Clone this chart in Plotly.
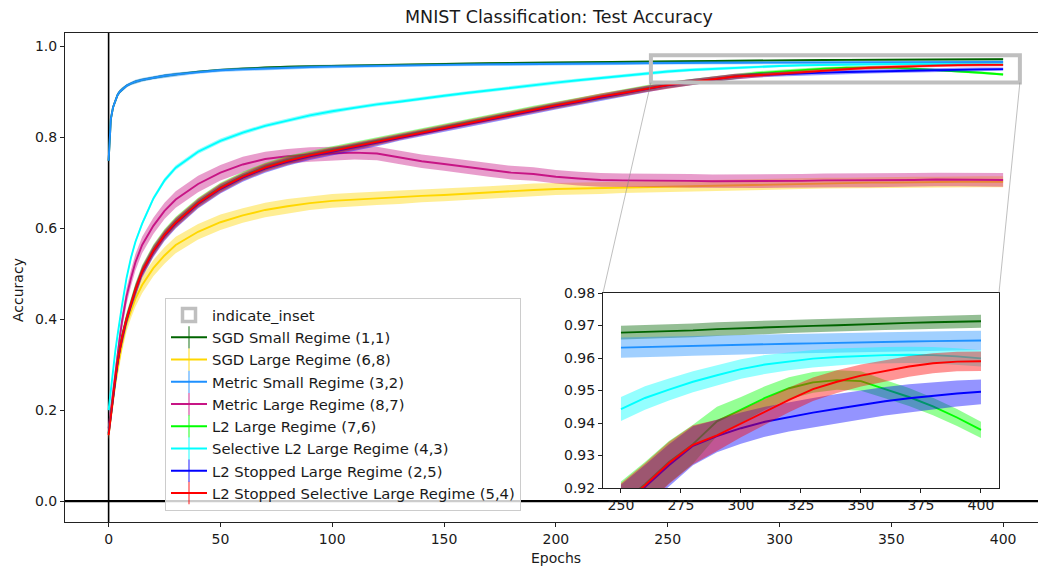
import plotly.graph_objects as go

# ---------------- data ----------------
epochs = [0, 1, 2, 3, 4, 5, 6, 8, 10, 12, 15, 20, 25, 30, 40, 50, 60, 70, 80, 90,
          100, 110, 120, 130, 140, 150, 160, 170, 180, 190, 200, 210, 220, 230, 240,
          250, 260, 270, 280, 290, 300, 310, 320, 330, 340, 350, 360, 370, 380, 390, 400]

sgd_small = [0.748, 0.840, 0.866, 0.882, 0.893, 0.900, 0.905, 0.913, 0.918, 0.922, 0.926, 0.931, 0.935, 0.938,
             0.944, 0.948, 0.951, 0.953, 0.955, 0.956, 0.957, 0.958, 0.959, 0.960, 0.961, 0.9615, 0.962,
             0.9625, 0.963, 0.9635, 0.964, 0.9645, 0.965, 0.9658, 0.9668, 0.9678, 0.9680, 0.9682, 0.9685,
             0.9689, 0.9692, 0.9694, 0.9697, 0.9699, 0.9701, 0.9704, 0.9706, 0.9708, 0.9710, 0.9712, 0.9713]
sgd_small_err = [0.006, 0.005, 0.005, 0.004, 0.004, 0.004, 0.004, 0.003, 0.003, 0.003, 0.003, 0.003, 0.003, 0.003,
                 0.0025, 0.0025, 0.0025, 0.0024, 0.0024, 0.0024, 0.0023, 0.0023, 0.0023, 0.0023, 0.0022, 0.0022,
                 0.0022, 0.0022, 0.0022, 0.0022, 0.0022, 0.0022, 0.0022, 0.0022, 0.0022, 0.0021, 0.0021, 0.0021,
                 0.0021, 0.0021, 0.0021, 0.0021, 0.0020, 0.0020, 0.0020, 0.0020, 0.0020, 0.0020, 0.0020, 0.0020, 0.0020]

sgd_large = [0.145, 0.185, 0.225, 0.260, 0.290, 0.320, 0.345, 0.390, 0.420, 0.445, 0.475, 0.512, 0.540, 0.563,
             0.592, 0.613, 0.628, 0.640, 0.648, 0.655, 0.660, 0.663, 0.666, 0.668, 0.671, 0.673, 0.676, 0.678,
             0.681, 0.684, 0.686, 0.687, 0.688, 0.690, 0.691, 0.692, 0.693, 0.694, 0.695, 0.696, 0.697, 0.698,
             0.699, 0.699, 0.700, 0.700, 0.701, 0.701, 0.702, 0.702, 0.702]
sgd_large_err = [0.010, 0.012, 0.014, 0.015, 0.016, 0.017, 0.017, 0.018, 0.018, 0.018, 0.018, 0.018, 0.018, 0.018,
                 0.017, 0.017, 0.016, 0.016, 0.016, 0.015, 0.015, 0.015, 0.015, 0.015, 0.014, 0.014, 0.014, 0.014,
                 0.014, 0.014, 0.013, 0.013, 0.013, 0.013, 0.013, 0.013, 0.013, 0.012, 0.012, 0.012, 0.012, 0.012,
                 0.012, 0.012, 0.012, 0.012, 0.012, 0.012, 0.012, 0.012, 0.012]

metric_small = [0.748, 0.840, 0.866, 0.882, 0.893, 0.900, 0.905, 0.913, 0.918, 0.922, 0.926, 0.931, 0.935, 0.938,
                0.943, 0.947, 0.949, 0.951, 0.952, 0.954, 0.955, 0.956, 0.957, 0.958, 0.9585, 0.959, 0.9595,
                0.960, 0.9605, 0.961, 0.9612, 0.9615, 0.9618, 0.962, 0.9626, 0.9632, 0.9634, 0.9636, 0.9637,
                0.9639, 0.9641, 0.9642, 0.9644, 0.9645, 0.9647, 0.9648, 0.9649, 0.9651, 0.9652, 0.9653, 0.9654]
metric_small_err = [0.006, 0.006, 0.005, 0.005, 0.005, 0.004, 0.004, 0.004, 0.004, 0.004, 0.004, 0.004, 0.004, 0.004,
                    0.0035, 0.0035, 0.0035, 0.0035, 0.0034, 0.0034, 0.0034, 0.0033, 0.0033, 0.0033, 0.0033, 0.0032,
                    0.0032, 0.0032, 0.0032, 0.0032, 0.0031, 0.0031, 0.0031, 0.0031, 0.0031, 0.0031, 0.0031, 0.0031,
                    0.0030, 0.0030, 0.0030, 0.0030, 0.0030, 0.0030, 0.0030, 0.0030, 0.0030, 0.0030, 0.0030, 0.0030, 0.0030]

metric_large = [0.160, 0.200, 0.250, 0.290, 0.330, 0.360, 0.395, 0.450, 0.490, 0.525, 0.563, 0.605, 0.638, 0.663,
                0.697, 0.722, 0.740, 0.752, 0.758, 0.762, 0.764, 0.766, 0.764, 0.755, 0.747, 0.741, 0.735, 0.728,
                0.722, 0.719, 0.713, 0.709, 0.706, 0.705, 0.705, 0.705, 0.704, 0.703, 0.703, 0.703, 0.704, 0.704,
                0.705, 0.705, 0.705, 0.706, 0.706, 0.707, 0.707, 0.707, 0.706]
metric_large_err = [0.010, 0.012, 0.014, 0.015, 0.016, 0.017, 0.017, 0.018, 0.018, 0.018, 0.018, 0.018, 0.018, 0.018,
                    0.018, 0.017, 0.017, 0.016, 0.016, 0.016, 0.015, 0.015, 0.015, 0.015, 0.015, 0.015, 0.015, 0.015,
                    0.015, 0.015, 0.015, 0.015, 0.015, 0.015, 0.015, 0.015, 0.015, 0.015, 0.015, 0.015, 0.015, 0.015,
                    0.015, 0.015, 0.015, 0.015, 0.015, 0.015, 0.015, 0.015, 0.015]

l2_large = [0.150, 0.192, 0.237, 0.272, 0.307, 0.337, 0.362, 0.402, 0.437, 0.467, 0.507, 0.552, 0.587, 0.614,
            0.657, 0.690, 0.715, 0.735, 0.750, 0.762, 0.772, 0.782, 0.792, 0.803, 0.813, 0.823, 0.833, 0.843,
            0.852, 0.862, 0.871, 0.880, 0.890, 0.898, 0.907, 0.9150, 0.9212, 0.9280, 0.9335, 0.9405, 0.9440,
            0.9477, 0.9507, 0.9525, 0.9532, 0.9529, 0.9504, 0.9480, 0.9451, 0.9417, 0.9379]
l2_large_err = [0.008, 0.010, 0.011, 0.012, 0.012, 0.012, 0.012, 0.012, 0.012, 0.012, 0.012, 0.012, 0.011, 0.011,
                0.010, 0.010, 0.009, 0.009, 0.009, 0.008, 0.008, 0.008, 0.008, 0.007, 0.007, 0.007, 0.007, 0.007,
                0.007, 0.007, 0.007, 0.007, 0.007, 0.007, 0.007, 0.0070, 0.0068, 0.0065, 0.0060, 0.0045, 0.0040,
                0.0036, 0.0034, 0.0032, 0.0030, 0.0030, 0.0028, 0.0028, 0.0027, 0.0026, 0.0025]

sel_l2_large = [0.200, 0.245, 0.290, 0.330, 0.365, 0.400, 0.430, 0.490, 0.535, 0.570, 0.610, 0.665, 0.705, 0.733,
                0.768, 0.792, 0.810, 0.825, 0.837, 0.848, 0.857, 0.865, 0.872, 0.878, 0.885, 0.891, 0.897, 0.903,
                0.909, 0.915, 0.920, 0.925, 0.930, 0.935, 0.940, 0.9443, 0.9477, 0.9503, 0.9527, 0.9547, 0.9566,
                0.9580, 0.9590, 0.9598, 0.9603, 0.9607, 0.9609, 0.9610, 0.9609, 0.9605, 0.9599]
sel_l2_large_err = [0.006, 0.006, 0.006, 0.006, 0.006, 0.006, 0.006, 0.005, 0.005, 0.005, 0.005, 0.005, 0.005, 0.005,
                    0.005, 0.005, 0.0045, 0.0045, 0.0045, 0.0045, 0.0045, 0.004, 0.004, 0.004, 0.004, 0.004, 0.004,
                    0.004, 0.004, 0.004, 0.004, 0.0038, 0.0038, 0.0038, 0.0038, 0.0037, 0.0036, 0.0034, 0.0032,
                    0.0031, 0.0030, 0.0029, 0.0028, 0.0027, 0.0026, 0.0025, 0.0025, 0.0025, 0.0025, 0.0025, 0.0025]

l2_stopped = [0.148, 0.189, 0.233, 0.268, 0.303, 0.333, 0.358, 0.398, 0.433, 0.463, 0.503, 0.548, 0.583, 0.610,
              0.653, 0.686, 0.711, 0.731, 0.746, 0.758, 0.768, 0.778, 0.788, 0.799, 0.809, 0.819, 0.829, 0.839,
              0.848, 0.858, 0.868, 0.877, 0.887, 0.896, 0.905, 0.9140, 0.9203, 0.9270, 0.9330, 0.9360, 0.9384,
              0.9404, 0.9419, 0.9432, 0.9444, 0.9456, 0.9467, 0.9476, 0.9484, 0.9491, 0.9496]
l2_stopped_err = [0.008, 0.010, 0.011, 0.012, 0.012, 0.012, 0.012, 0.012, 0.012, 0.012, 0.012, 0.012, 0.011, 0.011,
                  0.010, 0.010, 0.009, 0.009, 0.009, 0.008, 0.008, 0.008, 0.008, 0.007, 0.007, 0.007, 0.007, 0.007,
                  0.007, 0.007, 0.007, 0.007, 0.007, 0.007, 0.007, 0.0070, 0.0068, 0.0065, 0.0060, 0.0050, 0.0048,
                  0.0046, 0.0045, 0.0045, 0.0045, 0.0045, 0.0044, 0.0043, 0.0042, 0.0040, 0.0038]

l2_stopped_sel = [0.145, 0.190, 0.235, 0.270, 0.305, 0.335, 0.360, 0.400, 0.435, 0.465, 0.505, 0.550, 0.585, 0.612,
                  0.655, 0.688, 0.713, 0.733, 0.748, 0.760, 0.770, 0.780, 0.790, 0.801, 0.811, 0.821, 0.831, 0.841,
                  0.850, 0.860, 0.870, 0.879, 0.889, 0.897, 0.906, 0.9145, 0.9208, 0.9277, 0.9333, 0.9362, 0.9398,
                  0.9434, 0.9471, 0.9504, 0.9527, 0.9546, 0.9561, 0.9574, 0.9584, 0.9589, 0.9590]
l2_stopped_sel_err = [0.008, 0.010, 0.011, 0.012, 0.012, 0.012, 0.012, 0.012, 0.012, 0.012, 0.012, 0.012, 0.011, 0.011,
                      0.010, 0.010, 0.009, 0.009, 0.009, 0.008, 0.008, 0.008, 0.008, 0.007, 0.007, 0.007, 0.007, 0.007,
                      0.007, 0.007, 0.007, 0.007, 0.007, 0.007, 0.007, 0.0070, 0.0068, 0.0065, 0.0060, 0.0048, 0.0042,
                      0.0040, 0.0038, 0.0036, 0.0035, 0.0034, 0.0033, 0.0032, 0.0031, 0.0030, 0.0030]

series_names = ["SGD Small Regime (1,1)", "SGD Large Regime (6,8)", "Metric Small Regime (3,2)",
                "Metric Large Regime (8,7)", "L2 Large Regime (7,6)", "Selective L2 Large Regime (4,3)",
                "L2 Stopped Large Regime (2,5)", "L2 Stopped Selective Large Regime (5,4)"]
series_values = [sgd_small, sgd_large, metric_small, metric_large, l2_large, sel_l2_large, l2_stopped, l2_stopped_sel]
series_errors = [sgd_small_err, sgd_large_err, metric_small_err, metric_large_err, l2_large_err,
                 sel_l2_large_err, l2_stopped_err, l2_stopped_sel_err]
series_colors = [(0, 100, 0), (255, 215, 0), (30, 144, 255), (199, 21, 133), (0, 255, 0),
                 (0, 255, 255), (0, 0, 255), (255, 0, 0)]

main_xticks = [0, 50, 100, 150, 200, 250, 300, 350, 400]
main_yticks = [0.0, 0.2, 0.4, 0.6, 0.8, 1.0]
inset_start_epoch = 250
inset_xticks = [250, 275, 300, 325, 350, 375, 400]
inset_yticks = [0.92, 0.93, 0.94, 0.95, 0.96, 0.97, 0.98]
inset_xlim = [242.5, 407.5]
inset_ylim = [0.92, 0.98]

# ---------------- layout constants ----------------
W, H = 1038, 569
ML, MR, MT, MB = 65, 0, 33, 47
XR = [-19.5, 415.6]
YR = [-0.046, 1.029]
INSET_DOM_X = [0.5529, 0.9599]
INSET_DOM_Y = [0.0695, 0.4683]
FONT = "DejaVu Sans"
TXT = "#1a1a1a"


def rgba(c, a):
    return "rgba(%d,%d,%d,%s)" % (c[0], c[1], c[2], a)


fig = go.Figure()

# legend-only entries
fig.add_trace(go.Scatter(x=[None], y=[None], mode="markers", name="indicate_inset",
                         marker=dict(symbol="square-open", size=13, color="#bfbfbf",
                                     line=dict(color="#bfbfbf", width=3.5)),
                         showlegend=True, hoverinfo="skip"))
for name, col in zip(series_names, series_colors):
    fig.add_trace(go.Scatter(x=[None], y=[None], mode="lines+markers", name=name,
                             line=dict(color=rgba(col, 1), width=2),
                             marker=dict(symbol="line-ns", size=16, color=rgba(col, 0.45),
                                         line=dict(color=rgba(col, 0.45), width=2)),
                             showlegend=True, hoverinfo="skip"))

# data: bands + lines, main axes and inset axes (inset shows epochs >= 250 only)
inset_idx = [i for i, e in enumerate(epochs) if e >= inset_start_epoch]
for axes, idx in [(("x", "y"), list(range(len(epochs)))), (("x2", "y2"), inset_idx)]:
    ex = [epochs[i] for i in idx]
    for vals, errs, col in zip(series_values, series_errors, series_colors):
        v = [vals[i] for i in idx]
        upper = [vals[i] + errs[i] for i in idx]
        lower = [vals[i] - errs[i] for i in idx]
        fig.add_trace(go.Scatter(x=ex + ex[::-1], y=upper + lower[::-1],
                                 fill="toself", fillcolor=rgba(col, 0.42),
                                 line=dict(width=0), mode="lines", showlegend=False,
                                 hoverinfo="skip", xaxis=axes[0], yaxis=axes[1]))
        fig.add_trace(go.Scatter(x=ex, y=v, mode="lines",
                                 line=dict(color=rgba(col, 1), width=1.9),
                                 showlegend=False, xaxis=axes[0], yaxis=axes[1]))

axis_common = dict(showgrid=False, zeroline=False, ticks="outside", ticklen=4, tickwidth=1,
                   tickcolor="#222", linecolor="#222", linewidth=1, showline=True,
                   tickfont=dict(family=FONT, size=14, color=TXT))

fig.update_layout(
    width=W, height=H,
    margin=dict(l=ML, r=MR, t=MT, b=MB),
    paper_bgcolor="white", plot_bgcolor="white",
    font=dict(family=FONT, size=14, color=TXT),
    showlegend=True,
    legend=dict(x=(165 - ML) / (W - ML - MR), y=(H - MB - 298) / (H - MT - MB),
                xanchor="left", yanchor="top", itemwidth=36,
                bgcolor="rgba(255,255,255,0.8)", bordercolor="#cccccc", borderwidth=1,
                font=dict(family=FONT, size=14.8, color=TXT), tracegroupgap=0),
    xaxis=dict(domain=[0, 1], range=XR, tickvals=main_xticks, mirror=True, **axis_common),
    yaxis=dict(domain=[0, 1], range=YR, tickvals=main_yticks, tickformat=".1f", mirror=False,
               **axis_common),
    xaxis2=dict(domain=INSET_DOM_X, range=inset_xlim, tickvals=inset_xticks, anchor="y2",
                mirror=True, **axis_common),
    yaxis2=dict(domain=INSET_DOM_Y, range=inset_ylim, tickvals=inset_yticks, tickformat=".2f",
                anchor="x2", mirror=True, **axis_common),
)

# reference lines at 0
fig.add_shape(type="line", xref="x", yref="paper", x0=0, x1=0, y0=0, y1=1,
              line=dict(color="black", width=1.6), layer="below")
fig.add_shape(type="line", xref="paper", yref="y", x0=0, x1=1, y0=0, y1=0,
              line=dict(color="black", width=2.2), layer="below")

# indicate_inset rectangle + connectors
fig.add_shape(type="rect", xref="x", yref="y", x0=inset_xlim[0], x1=inset_xlim[1],
              y0=inset_ylim[0], y1=inset_ylim[1], line=dict(color="#bfbfbf", width=4),
              fillcolor="rgba(0,0,0,0)", layer="above")


def px(v):
    return (v - XR[0]) / (XR[1] - XR[0])


def py(v):
    return (v - YR[0]) / (YR[1] - YR[0])


for xv, dx in [(inset_xlim[0], INSET_DOM_X[0]), (inset_xlim[1], INSET_DOM_X[1])]:
    fig.add_shape(type="line", xref="paper", yref="paper", x0=px(xv), y0=py(inset_ylim[0]),
                  x1=dx, y1=INSET_DOM_Y[1], line=dict(color="rgba(128,128,128,0.5)", width=1),
                  layer="above")

# texts
fig.add_annotation(text="MNIST Classification: Test Accuracy", xref="paper", yref="paper",
                   x=(559 - ML) / (W - ML - MR), y=(H - MB - 17) / (H - MT - MB),
                   showarrow=False, font=dict(family=FONT, size=17.5, color=TXT),
                   xanchor="center", yanchor="middle")
fig.add_annotation(text="Epochs", xref="paper", yref="paper",
                   x=(556 - ML) / (W - ML - MR), y=(H - MB - 558) / (H - MT - MB),
                   showarrow=False, font=dict(family=FONT, size=14, color=TXT),
                   xanchor="center", yanchor="middle")
fig.add_annotation(text="Accuracy", xref="paper", yref="paper",
                   x=(18 - ML) / (W - ML - MR), y=(H - MB - 290) / (H - MT - MB),
                   showarrow=False, textangle=-90, font=dict(family=FONT, size=14, color=TXT),
                   xanchor="center", yanchor="middle")

fig.write_html("out.html")
